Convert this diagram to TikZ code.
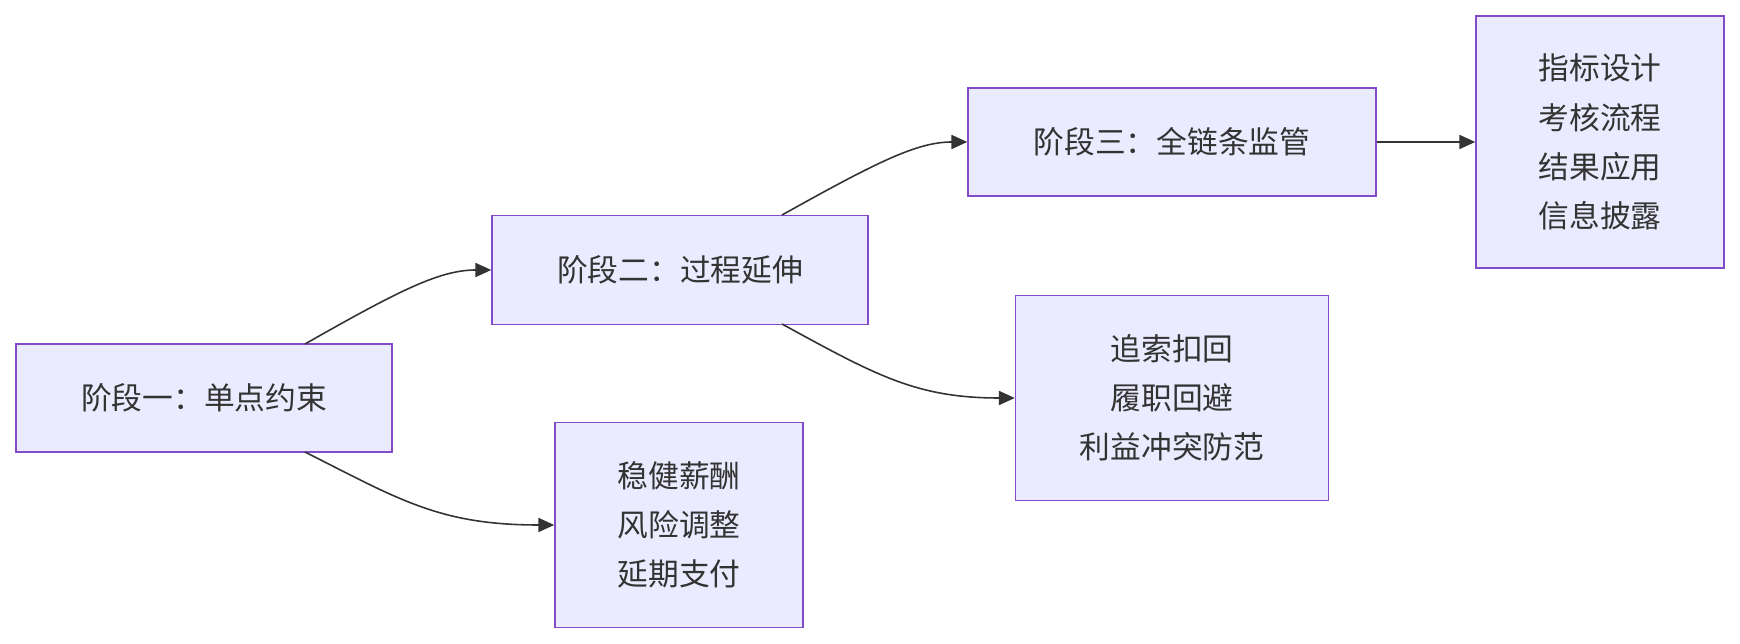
\documentclass[tikz,border=0pt]{standalone}
\usepackage{fontspec}
\setmainfont{Noto Sans CJK SC}
\usetikzlibrary{arrows.meta}
\tikzset{
  stage/.style={draw=violet!60!blue!70, line width=0.9pt, fill=blue!8, text=black!80,
    font=\fontsize{17.5}{28}\selectfont, align=center, inner sep=0pt},
  flow/.style={draw=black!80, line width=0.9pt, -{Triangle[length=9pt,width=8pt]}}
}
\begin{document}
\begin{tikzpicture}[x=0.02cm,y=-0.02cm]
        \useasboundingbox (0,0) rectangle (1740,644);
        \node [stage, minimum width=7.52cm, minimum height=2.16cm] (S1) at (204,398) {阶段一：单点约束};
        \node [stage, minimum width=7.52cm, minimum height=2.18cm] (S2) at (680,270) {阶段二：过程延伸};
        \node [stage, minimum width=8.16cm, minimum height=2.16cm] (S3) at (1172,142) {阶段三：全链条监管};
        \node [stage, minimum width=4.96cm, minimum height=5.04cm] (D3) at (1600,142) {指标设计\\考核流程\\结果应用\\信息披露};
        \node [stage, minimum width=6.26cm, minimum height=4.10cm] (D2) at (1172,398) {追索扣回\\履职回避\\利益冲突防范};
        \node [stage, minimum width=4.96cm, minimum height=4.10cm] (D1) at (679,525) {稳健薪酬\\风险调整\\延期支付};
        % connectors
        \coordinate (a) at (305,344);
        \coordinate (b) at (305,452);
        \coordinate (c) at (782,215);
        \coordinate (d) at (782,324);
        \draw [flow] (a) .. controls (400,290) and (440,270) .. (S2.west);
        \draw [flow] (b) .. controls (400,500) and (440,525) .. (D1.west);
        \draw [flow] (c) .. controls (877,162) and (917,142) .. (S3.west);
        \draw [flow] (d) .. controls (877,376) and (917,398) .. (D2.west);
        \draw [flow] (S3.east) -- (D3.west);
\end{tikzpicture}
\end{document}
